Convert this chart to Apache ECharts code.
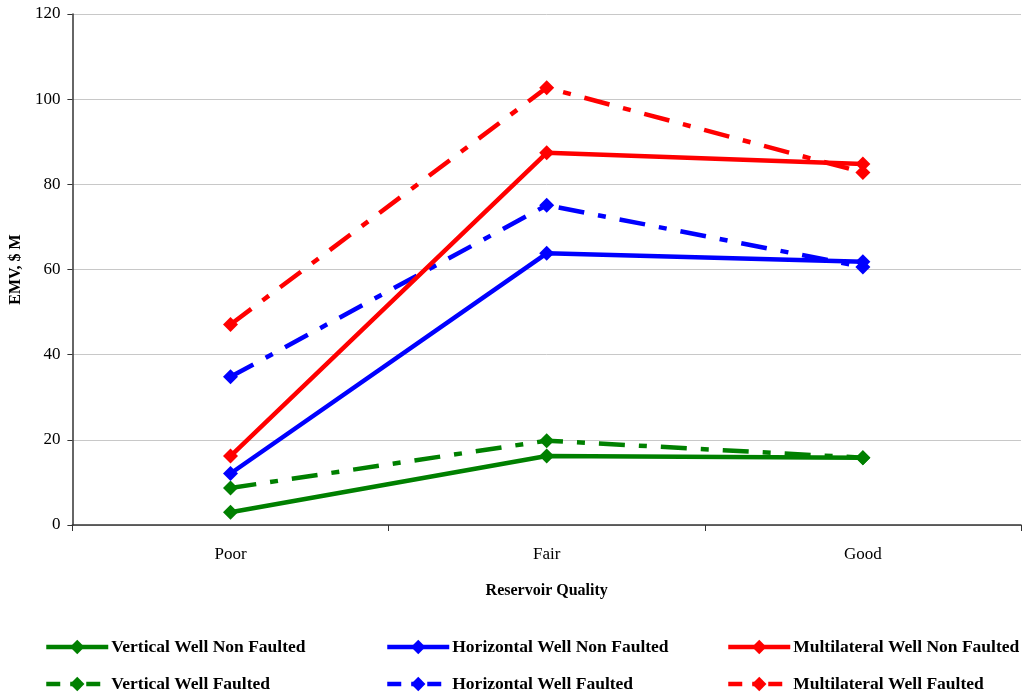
<!DOCTYPE html>
<html>
<head>
<meta charset="utf-8">
<script src="https://cdn.jsdelivr.net/npm/echarts@6/dist/echarts.min.js"></script>
<style>html,body{margin:0;padding:0;background:#fff}#c{width:1029px;height:700px}</style>
</head>
<body>
<div id="c"></div>
<script>
var categories = ['Poor', 'Fair', 'Good'];
var yTicks = [0, 20, 40, 60, 80, 100, 120];
var verticalNonFaulted = [3.0, 16.2, 15.8];
var verticalFaulted = [8.7, 19.8, 15.8];
var horizontalNonFaulted = [12.1, 63.8, 61.8];
var horizontalFaulted = [34.8, 75.1, 60.6];
var multilateralNonFaulted = [16.2, 87.4, 84.8];
var multilateralFaulted = [47.1, 102.7, 82.8];

var names = ['Vertical Well Non Faulted', 'Horizontal Well Non Faulted', 'Multilateral Well Non Faulted',
             'Vertical Well Faulted', 'Horizontal Well Faulted', 'Multilateral Well Faulted'];
var datas = [verticalNonFaulted, horizontalNonFaulted, multilateralNonFaulted,
             verticalFaulted, horizontalFaulted, multilateralFaulted];
var colors = ['#008000', '#0000ff', '#ff0000', '#008000', '#0000ff', '#ff0000'];
var dash = [26, 14, 8, 14];

var series = names.map(function (n, i) {
  return {
    name: n,
    type: 'line',
    data: datas[i],
    symbol: 'diamond',
    symbolSize: 15,
    color: colors[i],
    itemStyle: { color: colors[i] },
    lineStyle: { width: 4.5, color: colors[i], type: i < 3 ? 'solid' : dash },
    z: i < 3 ? 3 : 2,
    animation: false
  };
});

var legendLeft = [44, 385, 726];
var legendTop = [638, 675];
var legends = names.map(function (n, i) {
  return {
    data: [n],
    left: legendLeft[i % 3],
    top: legendTop[Math.floor(i / 3)],
    padding: 0,
    itemWidth: 62,
    itemHeight: 18,
    itemGap: 2,
    selectedMode: false,
    lineStyle: { width: 4.5, type: i < 3 ? 'solid' : [14, 10, 6, 10] },
    textStyle: { fontFamily: 'Liberation Serif', fontWeight: 'bold', fontSize: 17.5, color: '#000', padding: [0, 0, 0, -2] }
  };
});

var chart = echarts.init(document.getElementById('c'));
chart.setOption({
  backgroundColor: '#fff',
  animation: false,
  grid: { left: 70, right: 8, top: 14, bottom: 175 },
  legend: legends,
  xAxis: {
    type: 'category',
    data: categories,
    boundaryGap: true,
    name: 'Reservoir Quality',
    nameLocation: 'middle',
    nameGap: 58,
    nameTextStyle: { fontFamily: 'Liberation Serif', fontWeight: 'bold', fontSize: 16, color: '#000' },
    axisLine: { lineStyle: { color: '#333', width: 1.5 } },
    axisTick: { show: true, length: 6, lineStyle: { color: '#333' } },
    axisLabel: { fontFamily: 'Liberation Serif', fontSize: 17, color: '#000', margin: 21 },
    splitLine: { show: false }
  },
  yAxis: {
    type: 'value',
    min: yTicks[0],
    max: yTicks[yTicks.length - 1],
    interval: 20,
    name: 'EMV, $ M',
    nameLocation: 'middle',
    nameGap: 46,
    nameRotate: 90,
    nameTextStyle: { fontFamily: 'Liberation Serif', fontWeight: 'bold', fontSize: 16, color: '#000' },
    axisLine: { show: true, lineStyle: { color: '#333', width: 1.5 } },
    axisTick: { show: true, length: 5, lineStyle: { color: '#333' } },
    axisLabel: { fontFamily: 'Liberation Serif', fontSize: 17, color: '#000', margin: 12 },
    splitLine: { show: true, lineStyle: { color: '#c8c8c8', width: 1 } }
  },
  series: series
});
</script>
</body>
</html>
